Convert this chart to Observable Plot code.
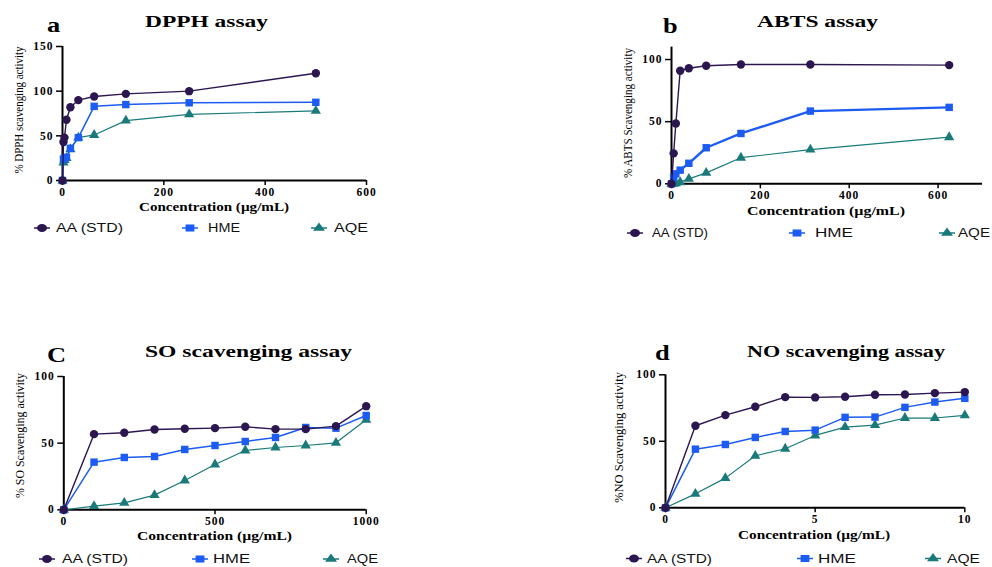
<!DOCTYPE html>
<html><head><meta charset="utf-8">
<script src="https://cdn.jsdelivr.net/npm/d3@7"></script>
<script src="https://cdn.jsdelivr.net/npm/@observablehq/plot@0.6"></script>
<style>
html,body{margin:0;padding:0;background:#fff;}
#root{position:relative;width:992px;height:567px;overflow:hidden;background:#fff;}
#root > svg{position:absolute;}
</style></head><body><div id="root"></div>
<script>
// ---------- data ----------
const seriesNames = ["AA (STD)", "HME", "AQE"];
const seriesColors = ["#2b1650", "#1c5cf2", "#1a7a7a"];
const seriesSymbols = ["circle", "square", "triangle"];

const panelLetters = ["a", "b", "C", "d"];
const panelTitles = ["DPPH assay", "ABTS assay", "SO scavenging assay", "NO scavenging assay"];
const yLabels = ["% DPPH scavenging activity", "% ABTS Scavenging activity", "% SO Scavenging activity", "%NO Scavenging activity"];
const xLabel = "Concentration (µg/mL)";

const dpphConc = [0, 1.95, 3.9, 7.8, 15.6, 31.25, 62.5, 125, 250, 500];
const dpphAA   = [0, 43, 48, 68, 82, 90, 94, 97, 100, 120];
const dpphHME  = [0, 24, 25, 26, 36, 48, 83, 85, 87, 87.5];
const dpphAQE  = [0, 20, 23, 25, 35, 48, 51, 67, 74, 78];
const dpphXTicks = [0, 200, 400, 600];
const dpphYTicks = [0, 50, 100, 150];

const abtsConc = [0, 4.88, 9.77, 19.53, 39.06, 78.13, 156.25, 312.5, 625];
const abtsAA   = [0, 24.5, 48.5, 91, 93, 95, 96, 96, 95.5];
const abtsHME  = [0, 5, 8, 11, 16.5, 29, 40.5, 58.5, 61.5];
const abtsAQE  = [0, 0, 0.5, 1.3, 4, 8.8, 21, 27.5, 37.5];
const abtsXTicks = [0, 200, 400, 600];
const abtsYTicks = [0, 50, 100];

const soConc = [0, 100, 200, 300, 400, 500, 600, 700, 800, 900, 1000];
const soAA   = [0, 56.75, 57.75, 60.25, 60.75, 61.25, 62.25, 60.5, 60.5, 62.75, 77.75];
const soHME  = [0, 35.75, 39.25, 40, 45.25, 48.25, 51.25, 54.25, 61.75, 61.25, 70.75];
const soAQE  = [0, 2.75, 5.25, 11, 22, 34, 44.5, 46.75, 48.25, 50.25, 67.5];
const soXTicks = [0, 500, 1000];
const soYTicks = [0, 50, 100];

const noConc = [0, 1, 2, 3, 4, 5, 6, 7, 8, 9, 10];
const noAA   = [0, 61.7, 69.7, 76, 83.2, 83, 83.5, 85, 85.2, 86.2, 87];
const noHME  = [0, 44.1, 47.6, 52.9, 57.4, 58.4, 68, 68.2, 75.5, 79.5, 82.3];
const noAQE  = [0, 10.5, 22.3, 39.1, 44.4, 54.4, 60.7, 62.2, 67.5, 67.5, 69.5];
const noXTicks = [0, 5, 10];
const noYTicks = [0, 50, 100];

// ---------- layout (positions only) ----------
const panels = [
  {conc: dpphConc, vals: [dpphAA, dpphHME, dpphAQE], xDomain: [0, 600], yDomain: [0, 150], xTicks: dpphXTicks, yTicks: dpphYTicks,
   left: 0, top: 36, width: 400, height: 170, mL: 62, mR: 34, mT: 10, mB: 26, sw: [1.4, 1.5, 1.2],
   letter: [47, 32], title: [206.5, 27.3, 123], ylab: [23, 110, 127], xlab: [214, 211, 150],
   legY: 228, leg: [[42, 56, 67], [190, 208, 32], [319, 334, 34]]},
  {conc: abtsConc, vals: [abtsAA, abtsHME, abtsAQE], xDomain: [0, 700], yDomain: [0, 110], xTicks: abtsXTicks, yTicks: abtsYTicks,
   left: 600, top: 36, width: 392, height: 170, mL: 71, mR: 10, mT: 10.6, mB: 22.7, sw: [1.4, 2.4, 1.2],
   letter: [663, 32.7], title: [817.5, 27.3, 121], ylab: [631.5, 113, 130], xlab: [826, 215, 158],
   legY: 233, leg: [[635, 652, 56], [797, 815, 38], [947, 958, 32]]},
  {conc: soConc, vals: [soAA, soHME, soAQE], xDomain: [0, 1000], yDomain: [0, 100], xTicks: soXTicks, yTicks: soYTicks,
   left: 0, top: 366, width: 400, height: 168, mL: 63.3, mR: 34.3, mT: 10, mB: 24.7, sw: [1.4, 1.5, 1.2],
   letter: [47, 362], title: [248.5, 357.3, 207], ylab: [24, 435.5, 125], xlab: [214.5, 540, 155],
   legY: 559, leg: [[47, 62, 66], [200, 213, 37], [331, 347, 31]]},
  {conc: noConc, vals: [noAA, noHME, noAQE], xDomain: [0, 10], yDomain: [0, 100], xTicks: noXTicks, yTicks: noYTicks,
   left: 600, top: 364, width: 392, height: 170, mL: 65, mR: 27.7, mT: 10.3, mB: 26.7, sw: [1.4, 1.5, 1.2],
   letter: [655, 360], title: [846, 357, 198], ylab: [623, 437.5, 131], xlab: [814, 538.5, 152],
   legY: 558.5, leg: [[634, 647, 65], [805, 818, 38], [933, 947, 33]]}
];

const root = document.getElementById("root");
const dotR = [4.2, 4.2, 3.8];

panels.forEach(p => {
  const rows = [];
  seriesNames.forEach((s, i) => p.conc.forEach((c, j) => rows.push({series: s, x: c, y: p.vals[i][j]})));
  const marks = [
    Plot.ruleY([0], {stroke: "black", strokeWidth: 2}),
    Plot.ruleX([0], {stroke: "black", strokeWidth: 2}),
    Plot.axisX({ticks: p.xTicks, tickSize: 5, tickPadding: 2, label: null, strokeWidth: 1.5, tickFormat: d => String(d)}),
    Plot.axisY({ticks: p.yTicks, tickSize: 6, tickPadding: 3, label: null, strokeWidth: 1.5, tickFormat: d => String(d)})
  ];
  [2, 1, 0].forEach(i => {
    const s = seriesNames[i];
    const sub = rows.filter(d => d.series === s);
    marks.push(Plot.line(sub, {x: "x", y: "y", stroke: seriesColors[i], strokeWidth: p.sw[i]}));
    marks.push(Plot.dot(sub, {x: "x", y: "y", symbol: () => seriesSymbols[i], fill: seriesColors[i], stroke: "none", r: dotR[i]}));
  });
  const svg = Plot.plot({
    width: p.width, height: p.height,
    marginLeft: p.mL, marginRight: p.mR, marginTop: p.mT, marginBottom: p.mB,
    x: {domain: p.xDomain, nice: false},
    y: {domain: p.yDomain, nice: false},
    symbol: {domain: seriesSymbols, range: seriesSymbols},
    style: {fontFamily: "'Liberation Serif', 'Times New Roman', serif", fontWeight: "bold", fontSize: "11.5px",
            letterSpacing: "1px", background: "transparent", overflow: "visible", color: "black"},
    marks
  });
  svg.style.left = p.left + "px";
  svg.style.top = p.top + "px";
  root.appendChild(svg);
});

// ---------- overlay text: titles, labels, legends ----------
const ov = d3.select(root).append("svg")
  .attr("width", 992).attr("height", 567)
  .style("left", "0px").style("top", "0px").style("pointer-events", "none");

const serif = "'Liberation Serif', 'Times New Roman', serif";
const sans = "'Liberation Sans', Arial, sans-serif";

function symbolPath(k, size) {
  const t = k === 0 ? d3.symbolCircle : k === 1 ? d3.symbolSquare : d3.symbolTriangle;
  return d3.symbol(t, size)();
}

panels.forEach((p, pi) => {
  ov.append("text").attr("x", p.letter[0]).attr("y", p.letter[1])
    .attr("font-family", serif).attr("font-weight", "bold").attr("font-size", 22)
    .attr("transform", `translate(${p.letter[0]},0) scale(1.2,1) translate(${-p.letter[0]},0)`)
    .text(panelLetters[pi]);
  ov.append("text").attr("x", p.title[0]).attr("y", p.title[1])
    .attr("text-anchor", "middle").attr("font-family", serif).attr("font-weight", "bold").attr("font-size", 16.5)
    .attr("textLength", p.title[2]).attr("lengthAdjust", "spacingAndGlyphs")
    .text(panelTitles[pi]);
  ov.append("text").attr("transform", `translate(${p.ylab[0]},${p.ylab[1]}) rotate(-90)`)
    .attr("text-anchor", "middle").attr("font-family", serif).attr("font-size", 13.5)
    .attr("textLength", p.ylab[2]).attr("lengthAdjust", "spacingAndGlyphs")
    .text(yLabels[pi]);
  ov.append("text").attr("x", p.xlab[0]).attr("y", p.xlab[1])
    .attr("text-anchor", "middle").attr("font-family", serif).attr("font-weight", "bold").attr("font-size", 13)
    .attr("textLength", p.xlab[2]).attr("lengthAdjust", "spacingAndGlyphs")
    .text(xLabel);
  p.leg.forEach((l, k) => {
    const g = ov.append("g");
    g.append("line").attr("x1", l[0] - 8).attr("x2", l[0] + 8).attr("y1", p.legY).attr("y2", p.legY)
      .attr("stroke", seriesColors[k]).attr("stroke-width", 1.5);
    g.append("path").attr("d", symbolPath(k, k === 2 ? 40 : 50))
      .attr("transform", `translate(${l[0]},${p.legY}) scale(1.25,1)`).attr("fill", seriesColors[k]);
    g.append("text").attr("x", l[1]).attr("y", p.legY + 4.2)
      .attr("font-family", sans).attr("font-size", 12).attr("fill", "#111")
      .attr("textLength", l[2]).attr("lengthAdjust", "spacingAndGlyphs")
      .text(seriesNames[k]);
  });
});
</script>
</body></html>
